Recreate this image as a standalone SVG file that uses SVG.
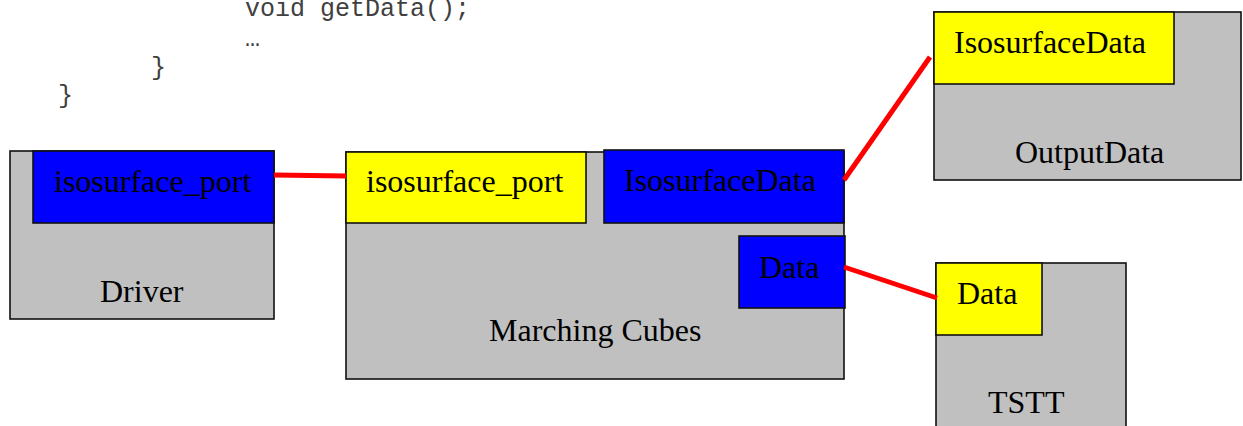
<svg xmlns="http://www.w3.org/2000/svg" width="1243" height="426" viewBox="0 0 1243 426">
<style>
.box{fill:#c0c0c0;stroke:#111;stroke-width:1.6}
.blue{fill:#0000ff;stroke:#111;stroke-width:1.6}
.yel{fill:#ffff00;stroke:#111;stroke-width:1.6}
.lbl{font-family:"Liberation Serif","Times New Roman",serif;font-size:32px;fill:#000}
.code{font-family:"Liberation Mono","Courier New",monospace;font-size:25px;fill:#404040}
.wire{stroke:#ff0000;stroke-width:5;fill:none}
</style>
<rect width="1243" height="426" fill="#fff"/>
<g id="code">
<text class="code" x="245" y="16">void getData();</text>
<text class="code" x="245" y="46">…</text>
<text class="code" x="151" y="75">}</text>
<text class="code" x="58" y="103">}</text>
</g>
<g id="driver">
<rect class="box" x="10" y="151" width="264" height="168"/>
<rect class="blue" x="33" y="151" width="241" height="72"/>
<text class="lbl" x="54" y="192">isosurface_port</text>
<text class="lbl" x="100" y="302">Driver</text>
</g>
<g id="marching-cubes">
<rect class="box" x="346" y="152" width="498" height="227"/>
<rect class="yel" x="346" y="152" width="240" height="71"/>
<rect class="blue" x="604" y="150" width="240" height="73"/>
<rect class="blue" x="739" y="236" width="106" height="72"/>
<text class="lbl" x="366" y="192">isosurface_port</text>
<text class="lbl" x="624" y="191">IsosurfaceData</text>
<text class="lbl" x="759" y="278">Data</text>
<text class="lbl" x="489" y="341">Marching Cubes</text>
</g>
<g id="output-data">
<rect class="box" x="934" y="12" width="307" height="168"/>
<rect class="yel" x="934" y="12" width="240" height="72"/>
<text class="lbl" x="954" y="53">IsosurfaceData</text>
<text class="lbl" x="1015" y="163">OutputData</text>
</g>
<g id="tstt">
<rect class="box" x="936" y="263" width="190" height="180"/>
<rect class="yel" x="936" y="263" width="106" height="72"/>
<text class="lbl" x="957" y="304">Data</text>
<text class="lbl" x="988" y="413">TSTT</text>
</g>
<g id="connectors">
<line class="wire" x1="274" y1="175" x2="346" y2="176"/>
<line class="wire" x1="844" y1="180" x2="930" y2="57"/>
<line class="wire" x1="844" y1="267" x2="937" y2="298"/>
</g>
</svg>
